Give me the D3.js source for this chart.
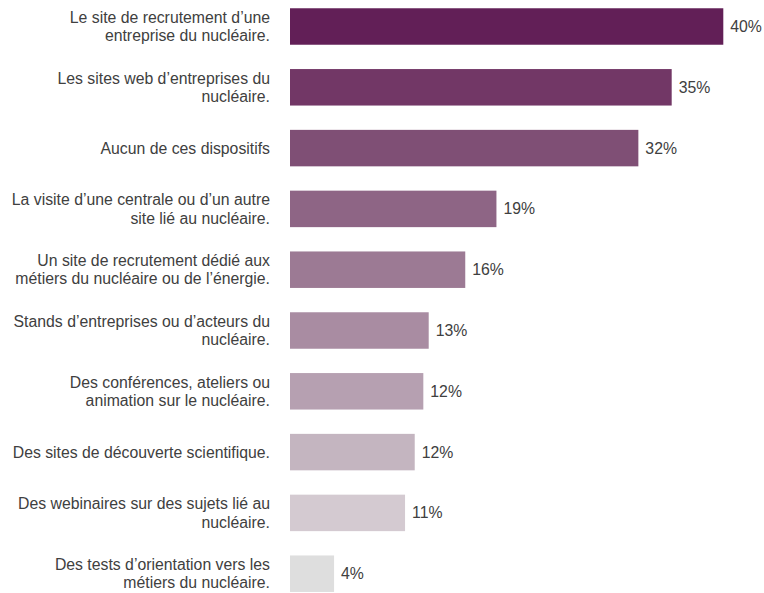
<!DOCTYPE html>
<html>
<head>
<meta charset="utf-8">
<script src="https://cdn.jsdelivr.net/npm/d3@7"></script>
<style>
  html, body { margin: 0; padding: 0; background: #ffffff; }
  svg { display: block; }
</style>
</head>
<body>
<svg id="chart" width="764" height="593"></svg>
<script>
const categories = [
  ["Le site de recrutement d’une", "entreprise du nucléaire."],
  ["Les sites web d’entreprises du", "nucléaire."],
  ["Aucun de ces dispositifs"],
  ["La visite d’une centrale ou d’un autre", "site lié au nucléaire."],
  ["Un site de recrutement dédié aux", "métiers du nucléaire ou de l’énergie."],
  ["Stands d’entreprises ou d’acteurs du", "nucléaire."],
  ["Des conférences, ateliers ou", "animation sur le nucléaire."],
  ["Des sites de découverte scientifique."],
  ["Des webinaires sur des sujets lié au", "nucléaire."],
  ["Des tests d’orientation vers les", "métiers du nucléaire."]
];
const values = [40.3, 35.5, 32.4, 19.2, 16.3, 12.9, 12.4, 11.6, 10.7, 4.1];
const valueLabels = ["40%", "35%", "32%", "19%", "16%", "13%", "12%", "12%", "11%", "4%"];
const colors = ["#621f57", "#723766", "#7f4f75", "#8e6585", "#9c7a94", "#a98ca2", "#b6a0b1", "#c4b5c0", "#d4cad1", "#dedede"];

const svg = d3.select("#chart");
const idx = d3.range(categories.length);

const x = d3.scaleLinear().domain([0, 40.3]).range([290, 723.3]);
const y = d3.scaleBand().domain(idx).range([-3.9, 604.1]).paddingInner(0.4).paddingOuter(0.2);

svg.selectAll("rect.bar").data(idx).enter().append("rect")
  .attr("class", "bar")
  .attr("x", x(0))
  .attr("y", i => y(i))
  .attr("width", i => x(values[i]) - x(0))
  .attr("height", y.bandwidth())
  .attr("fill", i => colors[i]);

svg.selectAll("text.val").data(idx).enter().append("text")
  .attr("class", "val")
  .attr("x", i => x(values[i]) + 7)
  .attr("y", i => y(i) + y.bandwidth() / 2)
  .attr("dy", "0.35em")
  .attr("font-family", "Liberation Sans, Arial, sans-serif")
  .attr("font-size", 15.8)
  .attr("fill", "#404040")
  .text(i => valueLabels[i]);

const lineH = 18.5;
const cat = svg.selectAll("text.cat").data(idx).enter().append("text")
  .attr("class", "cat")
  .attr("text-anchor", "end")
  .attr("font-family", "Liberation Sans, Arial, sans-serif")
  .attr("font-size", 15.8)
  .attr("fill", "#404040");

cat.each(function(i) {
  const lines = categories[i];
  const cy = y(i) + y.bandwidth() / 2;
  const startY = cy - (lines.length - 1) * lineH / 2;
  d3.select(this).selectAll("tspan").data(lines).enter().append("tspan")
    .attr("x", 270)
    .attr("y", (d, k) => startY + k * lineH)
    .attr("dy", "0.35em")
    .text(d => d);
});
</script>
</body>
</html>
